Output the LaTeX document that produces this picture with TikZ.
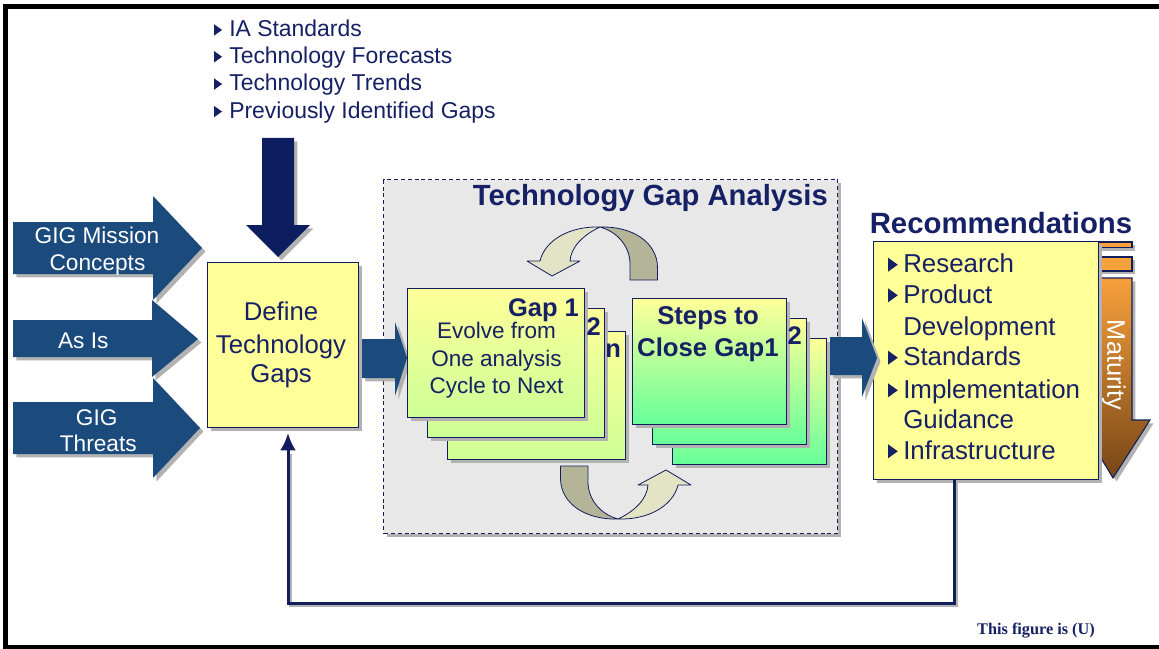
\documentclass[tikz,border=0pt]{standalone}
\usepackage{fontspec}
\setmainfont{Liberation Sans}
\newfontfamily\footfont{Liberation Serif}
\usetikzlibrary{shadows,calc,arrows.meta}

\definecolor{navy}{RGB}{18,30,92}
\definecolor{ink}{RGB}{22,32,100}
\definecolor{steel}{RGB}{27,74,125}
\definecolor{deepnavy}{RGB}{12,30,96}
\definecolor{paleyellow}{RGB}{255,255,153}
\definecolor{lime}{RGB}{205,255,150}
\definecolor{mint}{RGB}{102,255,153}
\definecolor{panelgray}{RGB}{232,232,232}
\definecolor{shadowgray}{RGB}{178,178,178}
\definecolor{turndark}{RGB}{180,180,152}
\definecolor{turnlight}{RGB}{227,227,198}
\definecolor{amber}{RGB}{247,160,60}
\definecolor{rust}{RGB}{118,70,22}

\newcommand\fs[2]{\fontsize{#1}{#2}\selectfont}

\tikzset{
  shd/.style={drop shadow={shadow xshift=2.6pt, shadow yshift=-2.6pt, fill=shadowgray, opacity=1}},
  size/.style 2 args={minimum width=#1*0.75pt, minimum height=#2*0.75pt},
  card/.style={draw=navy, line width=0.8pt, shd, inner sep=0, anchor=north west},
  txt/.style={inner sep=0, text=ink, anchor=base},
  wtxt/.style={inner sep=0, text=white, anchor=base},
  blockarrow/.style={fill=steel, shd},
  ribbon/.style={draw=navy, line width=0.6pt, line join=round},
  pics/tri/.style={code={\fill[ink] (0,-1) -- (0,{-1-#1}) -- ({0.7*#1},{-1-#1/2}) -- cycle;}},
  pics/turn/.style={code={
    % rear face of the twisted ribbon
    \filldraw[ribbon, fill=turndark]
      (0,-45) .. controls (32,-46) and (57,-30) .. (57.5,-5) -- (57.5,8)
      -- (30,8) -- (30,-8) .. controls (30,-25) and (18,-40) .. (0,-45) -- cycle;
    % front face ending in the head
    \filldraw[ribbon, fill=turnlight]
      (0,-45) .. controls (-30,-46) and (-55,-32) .. (-60,-11)
      -- (-73,-11) -- (-48,4) -- (-20,-11) -- (-30,-11)
      .. controls (-29,-25) and (-17,-37) .. (0,-45) -- cycle;
  }},
}

\begin{document}
\begin{tikzpicture}[x=0.75pt, y=-0.75pt]
\useasboundingbox (0,0) rectangle (1159,649);

% frame
\draw[line width=3.75pt] (5,6.5) rectangle (1163,647);

% inputs listed at the top
\foreach \t/\b [count=\i] in {IA Standards/36.7, Technology Forecasts/63.5, Technology Trends/90.8, Previously Identified Gaps/118.3}{
  \pic at (214,\b) {tri=11.5};
  \node[txt, anchor=base west] (src\i) at (229,\b) {\fs{17.2}{20}\t};
}

% down arrow into the definition step
\fill[deepnavy, shd] (262,138) -- (294,138) -- (294,225) -- (310,225) -- (278,257) -- (246,225) -- (262,225) -- cycle;

% left input arrows
\fill[blockarrow] (13,222) -- (153,222) -- (153,196) -- (202,248) -- (153,300) -- (153,274) -- (13,274) -- cycle;
\fill[blockarrow] (13,320) -- (152,320) -- (152,300) -- (198,339) -- (152,377) -- (152,357) -- (13,357) -- cycle;
\fill[blockarrow] (13,402) -- (153,402) -- (153,378) -- (200,428) -- (153,478) -- (153,454) -- (13,454) -- cycle;
\node[wtxt] (mis1) at (97,243.3) {\fs{17}{20}GIG Mission};
\node[wtxt] (mis2) at (97.5,270) {\fs{17}{20}Concepts};
\node[wtxt] (asis) at (83.3,348.3) {\fs{17}{20}As Is};
\node[wtxt] (thr1) at (96.7,425) {\fs{17}{20}GIG};
\node[wtxt] (thr2) at (98.3,451.7) {\fs{17}{20}Threats};

% definition step
\node[card, fill=paleyellow, size={151}{165}] (define) at (207,262) {};
\node[txt] (def1) at (281,320) {\fs{19.3}{23}Define};
\node[txt] (def2) at (281,353) {\fs{19.3}{23}Technology};
\node[txt] (def3) at (281,382) {\fs{19.3}{23}Gaps};

% analysis panel
\node[draw=navy, dash pattern=on 3pt off 2.2pt, line width=1.1pt, fill=panelgray, shd,
      size={454}{354}, anchor=north west, inner sep=0] (panel) at (383,179) {};
\node[txt, anchor=base east] (ptitle) at (828,205) {\fs{21.9}{26}\bfseries Technology Gap Analysis};

% cycle arrows
\pic at (600,272) {turn};
\pic[rotate=180] at (618,474) {turn};

% arrow from definition into the gap stack
\fill[blockarrow] (362,339) -- (395,339) -- (395,322) -- (407,358) -- (395,396) -- (395,378) -- (362,378) -- cycle;

% gap cards
\node[card, top color=paleyellow, bottom color=lime, size={178}{128}] (gap3) at (447,331) {};
\node[card, top color=paleyellow, bottom color=lime, size={177}{129}] (gap2) at (427,308) {};
\node[card, top color=paleyellow, bottom color=lime, size={177}{129}] (gap1) at (407,288) {};
\node[txt, anchor=base east] (gapn) at ($(gap3.north east)+(-5,26)$) {\fs{19.1}{23}\bfseries n};
\node[txt, anchor=base east] (gapb) at ($(gap2.north east)+(-4,27)$) {\fs{19.1}{23}\bfseries 2};
\node[txt, anchor=base east] (gapa) at ($(gap1.north east)+(-6,28.7)$) {\fs{19.1}{23}\bfseries Gap 1};
\node[txt] (ev1) at (496.5,338) {\fs{16.9}{20}Evolve from};
\node[txt] (ev2) at (496.5,366) {\fs{16.9}{20}One analysis};
\node[txt] (ev3) at (496.5,393) {\fs{16.9}{20}Cycle to Next};

% step cards
\node[card, top color=paleyellow, bottom color=mint, size={154}{126}] (st3) at (672,338) {};
\node[card, top color=paleyellow, bottom color=mint, size={154}{126}] (st2) at (652,318) {};
\node[card, top color=paleyellow, bottom color=mint, size={154}{126}] (st1) at (632,298) {};
\node[txt, anchor=base east] (stb) at ($(st2.north east)+(-5,26)$) {\fs{19.1}{23}\bfseries 2};
\node[txt] (sta1) at (708,324) {\fs{19.3}{23}\bfseries Steps to};
\node[txt] (sta2) at (708,356) {\fs{19.3}{23}\bfseries Close Gap1};

% maturity arrow behind the recommendations
\filldraw[fill=amber, draw=navy, line width=0.8pt, shd] (1090,242) rectangle (1132,247.5);
\filldraw[fill=amber, draw=navy, line width=0.8pt, shd] (1090,257) rectangle (1132,271);
\shadedraw[top color=amber, bottom color=rust, draw=navy, line width=0.8pt, shd]
  (1097,278) -- (1132,278) -- (1132,420) -- (1150,420) -- (1113,478) -- (1078,420) -- (1097,420) -- cycle;
\node[rotate=-90, text=white, inner sep=0] (mat) at (1114,365) {\fs{19}{22}Maturity};

% recommendations
\node[card, fill=paleyellow, size={225}{238}] (rec) at (873,241) {};
\node[txt] (rtitle) at (1001,233.3) {\fs{22}{26}\bfseries Recommendations};
\foreach \t/\b/\k [count=\i] in {Research/272.7/1, Product/303.3/1, Development/335/0, Standards/365.7/1,
    Implementation/398.3/1, Guidance/428.3/0, Infrastructure/459.3/1}{
  \ifnum\k=1 \pic at (888,\b) {tri=14}; \fi
  \node[txt, anchor=base west] (rec\i) at (903,\b) {\fs{19.4}{23}\t};
}

% arrow from the step cards to the recommendations
\fill[blockarrow] (830,337) -- (862,337) -- (862,318) -- (877,358) -- (862,397) -- (862,375) -- (830,375) -- cycle;

% feedback loop
\coordinate (fbR) at (954,603);
\coordinate (fbL) at (288,603);
\draw[shadowgray, line width=2.25pt, transform canvas={shift={(1.8pt,-1.8pt)}}]
  (rec.south -| fbR) -- (fbR) -- (fbL) -- ($(define.south -| fbL)+(0,24)$);
\draw[navy, line width=2.25pt, -{Latex[length=13pt,width=12pt]}]
  (rec.south -| fbR) -- (fbR) -- (fbL) -- ($(define.south -| fbL)+(0,5)$);

% marking
\node[txt] (mark) at (1036,634.3) {\footfont\fs{12.2}{14}\bfseries This figure is (U)};
\end{tikzpicture}
\end{document}
